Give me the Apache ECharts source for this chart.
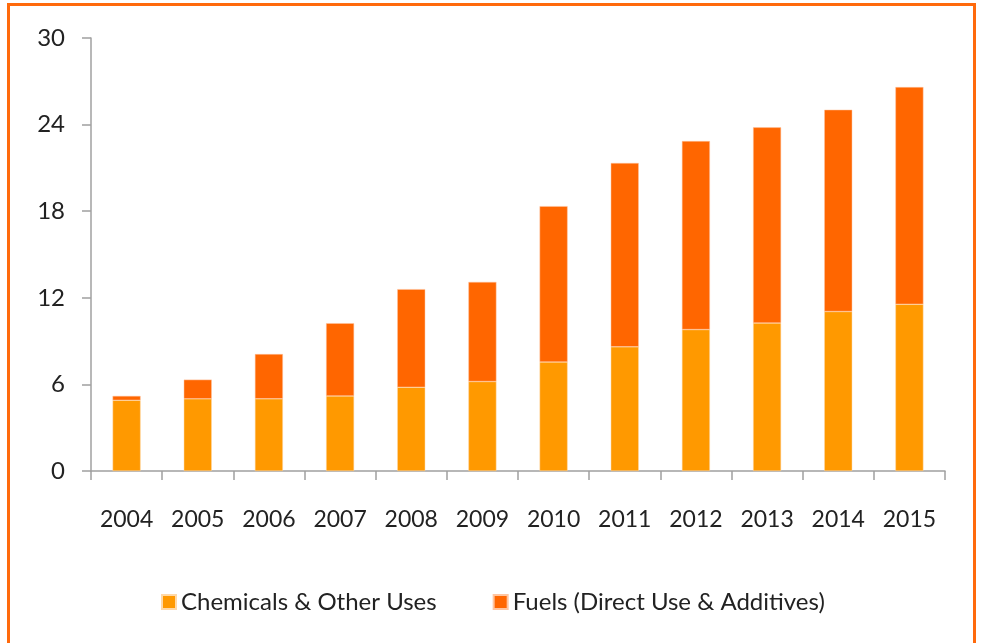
<!DOCTYPE html>
<html>
<head>
<meta charset="utf-8">
<script src="https://cdn.jsdelivr.net/npm/echarts@6/dist/echarts.min.js"></script>
<style>
  html, body { margin: 0; padding: 0; background: #fff; }
  #chart { width: 981px; height: 643px; }
</style>
</head>
<body>
<div id="chart"></div>
<script>
let years = ['2004', '2005', '2006', '2007', '2008', '2009', '2010', '2011', '2012', '2013', '2014', '2015'];
let chemicals = [4.9, 5.0, 5.0, 5.2, 5.8, 6.2, 7.55, 8.6, 9.8, 10.25, 11.05, 11.55];
let fuels = [0.3, 1.33, 3.1, 5.04, 6.8, 6.9, 10.8, 12.74, 13.06, 13.56, 13.98, 15.05];
let yTicks = [0, 6, 12, 18, 24, 30];

let font = 'Lato, "Open Sans", sans-serif';

let option = {
    animation: false,
    grid: {
        left: 91,
        right: 36,
        top: 38,
        bottom: 172
    },
    legend: {
        left: 156,
        top: 585,
        itemWidth: 14,
        itemHeight: 14,
        itemGap: 56,
        icon: 'rect',
        textStyle: { fontSize: 24, color: '#222', fontFamily: font },
        data: ['Chemicals & Other Uses', 'Fuels (Direct Use & Additives)']
    },
    xAxis: {
        type: 'category',
        data: years,
        axisLine: { lineStyle: { color: '#a0a0a0', width: 1.5 } },
        axisTick: { show: true, length: 9, lineStyle: { color: '#a0a0a0', width: 1.5 } },
        axisLabel: { interval: 0, margin: 37, fontSize: 23, color: '#222', fontFamily: font }
    },
    yAxis: {
        type: 'value',
        min: yTicks[0],
        max: yTicks[yTicks.length - 1],
        interval: 6,
        splitLine: { show: false },
        axisLine: { show: true, lineStyle: { color: '#a0a0a0', width: 1.5 } },
        axisTick: { show: true, length: 9, lineStyle: { color: '#a0a0a0', width: 1.5 } },
        axisLabel: { margin: 26, fontSize: 24, color: '#222', fontFamily: font }
    },
    graphic: [{
        type: 'rect',
        shape: { x: 8.5, y: 4.5, width: 966, height: 700 },
        style: { fill: 'none', stroke: '#ff6a0c', lineWidth: 3 }
    }],
    series: [
        {
            name: 'Chemicals & Other Uses',
            type: 'bar',
            stack: 'total',
            barWidth: 28,
            data: chemicals,
            itemStyle: { color: '#ff9900', borderColor: '#ffd9a8', borderWidth: 0.5 }
        },
        {
            name: 'Fuels (Direct Use & Additives)',
            type: 'bar',
            stack: 'total',
            barWidth: 28,
            data: fuels,
            itemStyle: { color: '#ff6600', borderColor: '#ffc5a0', borderWidth: 0.5 }
        }
    ]
};
echarts.init(document.getElementById('chart')).setOption(option);
</script>
</body>
</html>
